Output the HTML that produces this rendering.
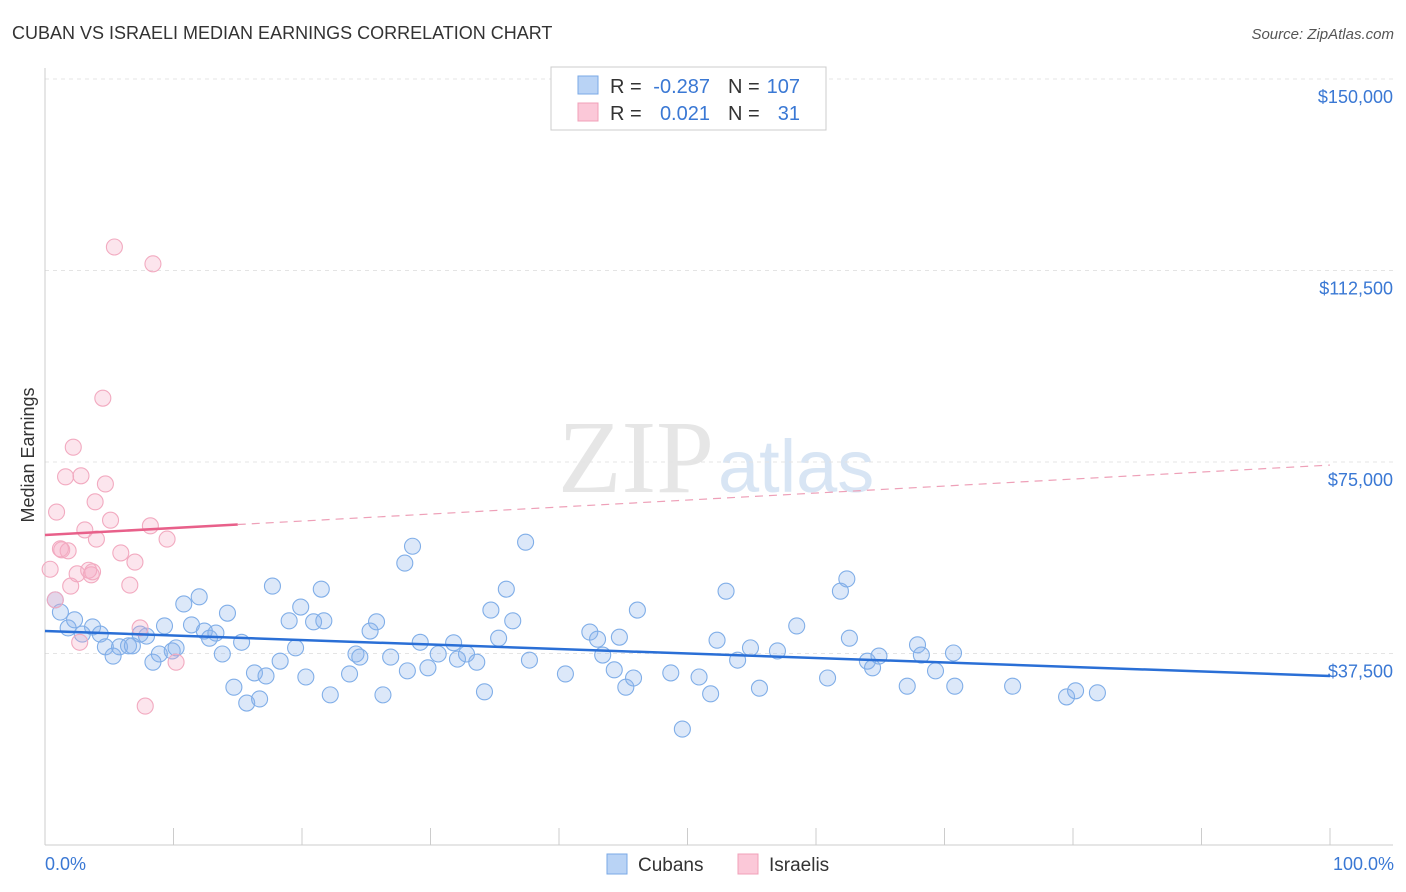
<!DOCTYPE html>
<html><head><meta charset="utf-8"><style>
body{margin:0;background:#fff;font-family:"Liberation Sans",sans-serif;}
svg{display:block}
</style></head><body>
<svg width="1406" height="892" xmlns="http://www.w3.org/2000/svg">
<text x="12" y="39" font-size="18" fill="#333">CUBAN VS ISRAELI MEDIAN EARNINGS CORRELATION CHART</text>
<text x="1394" y="39" font-size="15" fill="#555" font-style="italic" text-anchor="end">Source: ZipAtlas.com</text>
<text x="714" y="492" font-size="104" fill="#e6e6e6" text-anchor="end" font-family="Liberation Serif,serif">ZIP</text>
<text x="718" y="492" font-size="74" fill="#d8e5f4">atlas</text>
<g id="grid"></g>
<g id="axes"></g>
<g id="pts"></g>
<g id="lines"></g>
<text x="34" y="455" font-size="18" fill="#333" text-anchor="middle" transform="rotate(-90 34 455)">Median Earnings</text>
<text x="45" y="870" font-size="18" fill="#3a78d4">0.0%</text>
<text x="1394" y="870" font-size="18" fill="#3a78d4" text-anchor="end">100.0%</text>
<g>
<rect x="551" y="67" width="275" height="63" fill="#fff" stroke="#ccc"/>
<rect x="578" y="76" width="20" height="18" fill="#b9d3f5" stroke="#7aa8e6"/>
<rect x="578" y="103" width="20" height="18" fill="#fbc8d8" stroke="#f0a0b8"/>
<text x="610" y="93" font-size="20" fill="#333">R =</text>
<text x="710" y="93" font-size="20" fill="#3a78d4" text-anchor="end">-0.287</text>
<text x="728" y="93" font-size="20" fill="#333">N =</text>
<text x="800" y="93" font-size="20" fill="#3a78d4" text-anchor="end">107</text>
<text x="610" y="120" font-size="20" fill="#333">R =</text>
<text x="710" y="120" font-size="20" fill="#3a78d4" text-anchor="end">0.021</text>
<text x="728" y="120" font-size="20" fill="#333">N =</text>
<text x="800" y="120" font-size="20" fill="#3a78d4" text-anchor="end">31</text>
</g>
<g>
<rect x="607" y="854" width="20" height="20" fill="#b9d3f5" stroke="#7aa8e6"/>
<text x="638" y="871" font-size="19" fill="#333">Cubans</text>
<rect x="738" y="854" width="20" height="20" fill="#fbc8d8" stroke="#f0a0b8"/>
<text x="769" y="871" font-size="19" fill="#333">Israelis</text>
</g>
</svg>
<script>
const yTicks=[37500,75000,112500,150000];
const yTickLabels=["$37,500","$75,000","$112,500","$150,000"];
const cubanX=[0.8,1.2,1.8,2.3,2.9,3.7,4.3,4.7,5.3,5.8,6.5,6.8,7.4,7.9,8.4,8.9,9.3,9.9,10.2,10.8,11.4,12.0,12.4,12.8,13.3,13.8,14.2,14.7,15.3,15.7,16.3,16.7,17.2,17.7,18.3,19.0,19.5,19.9,20.3,20.9,21.5,21.7,22.2,23.7,24.2,24.5,25.3,25.8,26.3,26.9,28.0,28.2,28.6,29.2,29.8,30.6,31.8,32.1,32.8,33.6,34.2,34.7,35.3,35.9,36.4,37.4,37.7,40.5,42.4,43.0,43.4,44.3,44.7,45.2,45.8,46.1,48.7,49.6,50.9,51.8,52.3,53.0,53.9,54.9,55.6,57.0,58.5,60.9,61.9,62.4,62.6,64.0,64.4,64.9,67.1,67.9,68.2,69.3,70.7,70.8,75.3,79.5,80.2,81.9];
const cubanY=[48.0,45.6,42.5,44.1,41.3,42.7,41.3,38.8,37.0,38.8,39.0,39.0,41.3,40.9,35.8,37.4,42.9,38.0,38.6,47.2,43.1,48.6,41.9,40.5,41.5,37.4,45.4,30.9,39.7,27.8,33.7,28.6,33.1,50.7,36.0,43.9,38.6,46.6,32.9,43.7,50.1,43.9,29.4,33.5,37.4,36.8,41.9,43.7,29.4,36.8,55.2,34.1,58.5,39.7,34.7,37.4,39.6,36.4,37.4,35.8,30.0,46.0,40.5,50.1,43.9,59.3,36.2,33.5,41.7,40.3,37.2,34.3,40.7,30.9,32.7,46.0,33.7,22.7,32.9,29.6,40.1,49.7,36.2,38.6,30.7,38.0,42.9,32.7,49.7,52.1,40.5,36.0,34.7,37.0,31.1,39.2,37.2,34.1,37.6,31.1,31.1,29.0,30.2,29.8];
const israeliX=[0.4,0.8,0.9,1.3,1.6,1.8,2.0,2.2,2.5,2.8,2.7,3.1,3.4,3.6,3.9,4.0,4.5,4.7,5.1,5.4,5.9,6.6,7.0,7.4,7.8,8.2,8.4,9.5,10.2,1.2,3.7];
const israeliY=[54.0,48.0,65.2,57.8,72.1,57.6,50.7,77.9,53.1,72.3,39.7,61.7,53.8,52.9,67.2,59.9,87.5,70.7,63.6,117.1,57.2,50.9,55.4,42.5,27.2,62.5,113.8,59.9,35.8,58.0,53.5];
const cubanTrend=[41.9,33.1];
const israeliTrend=[60.7,74.4];
const NS="http://www.w3.org/2000/svg";
function xs(p){return 45+p*12.85;}
function ys(v){return 845-v/37500*191.5;}
function mk(t,a,parent){const e=document.createElementNS(NS,t);for(const k in a)e.setAttribute(k,a[k]);parent.appendChild(e);return e;}
const grid=document.getElementById('grid'),axes=document.getElementById('axes'),pts=document.getElementById('pts'),lines=document.getElementById('lines');
yTicks.forEach((t,i)=>{
 const g=mk('line',{x1:45,x2:1393,y1:ys(t),y2:ys(t),stroke:'#e4e4e4','stroke-dasharray':'4,4'},grid);
 
 
 const tx=mk('text',{x:1393,y:ys(t)+24,'font-size':18,fill:'#3a78d4','text-anchor':'end'},axes);
 tx.textContent=yTickLabels[i];
 
 
});
const ax=mk('line',{x1:45,x2:1393,y1:845,y2:845,stroke:'#ccc'},axes);


const ay=mk('line',{x1:45,x2:45,y1:68,y2:845,stroke:'#ccc'},axes);


for(let i=0;i<=10;i++){
 const tk=mk('line',{x1:xs(i*10),x2:xs(i*10),y1:828,y2:845,stroke:'#ccc'},axes);
 
 
}
cubanX.forEach((x,i)=>{
 const c=mk('circle',{cx:xs(x),cy:ys(cubanY[i]*1000),r:8,fill:'rgba(140,180,235,0.3)',stroke:'#80aee8','stroke-width':1.1},pts);
 
 
});
israeliX.forEach((x,i)=>{
 const c=mk('circle',{cx:xs(x),cy:ys(israeliY[i]*1000),r:8,fill:'rgba(245,170,195,0.3)',stroke:'#f2aac0','stroke-width':1.1},pts);
 
 
});
const bl=mk('line',{x1:xs(0),x2:xs(100),y1:ys(cubanTrend[0]*1000),y2:ys(cubanTrend[1]*1000),stroke:'#2a6fd6','stroke-width':2.5},lines);


const pv=v=>israeliTrend[0]+(israeliTrend[1]-israeliTrend[0])*v/100;
const ps=mk('line',{x1:xs(0),x2:xs(15),y1:ys(pv(0)*1000),y2:ys(pv(15)*1000),stroke:'#e8608a','stroke-width':2.5},lines);


const pd=mk('line',{x1:xs(15),x2:xs(100),y1:ys(pv(15)*1000),y2:ys(pv(100)*1000),stroke:'#eea0b8','stroke-width':1.2,'stroke-dasharray':'8,6'},lines);


</script>
</body></html>
